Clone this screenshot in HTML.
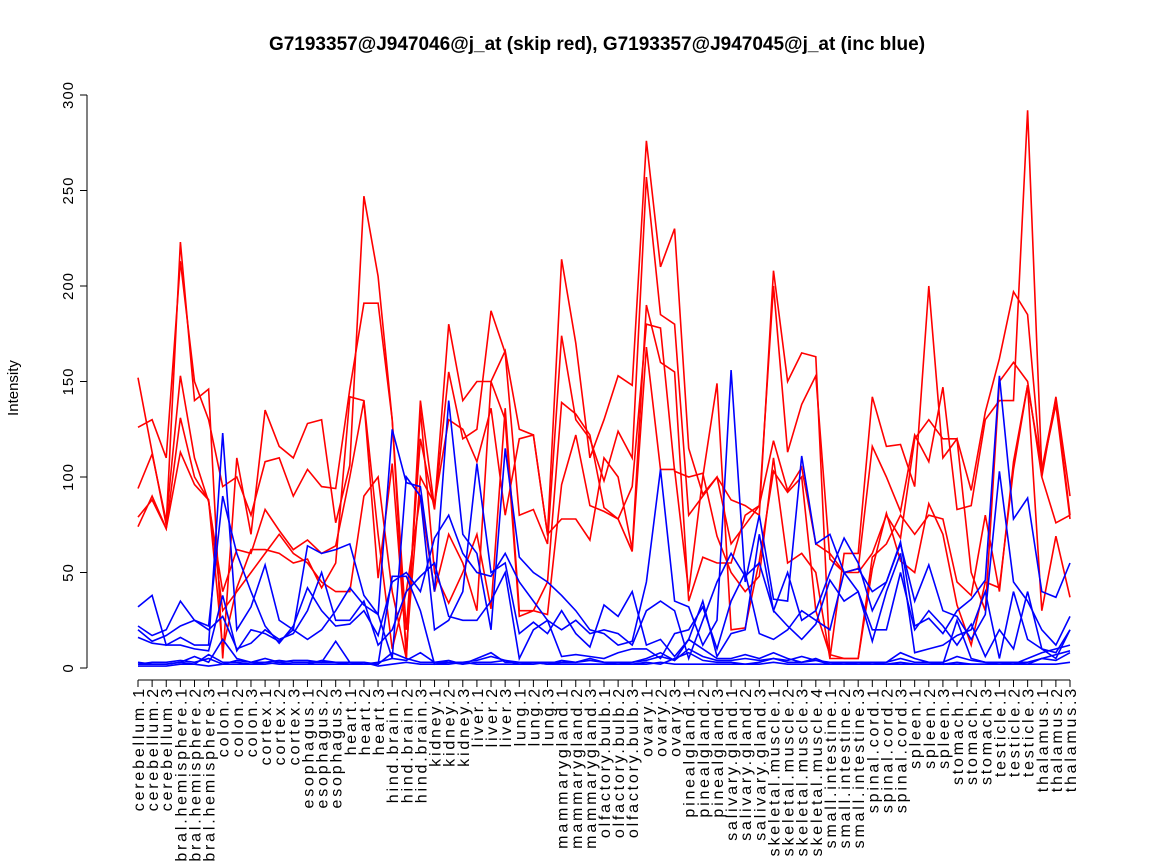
<!DOCTYPE html>
<html><head><meta charset="utf-8"><style>
body{margin:0;background:#fff;}
svg{display:block;font-family:"Liberation Sans",sans-serif;}
</style></head><body>
<svg id="chart" width="1152" height="864" viewBox="0 0 1152 864" xmlns="http://www.w3.org/2000/svg">
<text x="597" y="50" text-anchor="middle" font-size="19" font-weight="bold">G7193357@J947046@j_at (skip red), G7193357@J947045@j_at (inc blue)</text>
<text transform="translate(18,388) rotate(-90)" text-anchor="middle" font-size="15">Intensity</text>
<g id="yaxis"></g>
<g id="xaxis"></g>
<g id="series"></g>
</svg>
<script>
const groups = ["cerebellum","cerebral.hemisphere","colon","cortex","esophagus","heart","hind.brain","kidney","liver","lung","mammarygland","olfactory.bulb","ovary","pinealgland","salivary.gland","skeletal.muscle","small.intestine","spinal.cord","spleen","stomach","testicle","thalamus"];
const groupCounts = [3,3,3,3,3,3,3,3,3,3,3,3,3,3,3,4,3,3,3,3,3,3];
const yTicks = [0,50,100,150,200,250,300];
const red1 = [152,113,75,223,140,146,5,110,70,135,116,110,128,130,76,106,247,205,130,5,140,84,180,140,150,150,166,125,122,70,214,170,110,130,153,148,276,210,230,115,91,100,88,85,80,208,150,165,163,5,60,60,142,116,117,95,200,110,120,93,134,162,197,185,100,142,90];
const red2 = [126,130,110,213,150,130,95,100,80,108,110,90,104,95,94,146,191,191,130,20,120,83,155,120,125,187,165,80,83,65,174,130,120,98,124,110,257,185,180,80,90,100,65,75,85,200,113,138,153,57,50,52,116,100,82,122,108,147,83,85,130,140,140,292,103,138,78];
const red3 = [94,112,77,153,110,87,40,62,60,83,72,62,67,60,64,100,140,47,107,10,100,86,130,125,108,136,80,120,122,70,78,78,67,110,100,62,190,160,155,35,58,55,55,80,85,119,93,105,65,60,50,50,60,80,68,120,130,120,120,50,30,150,160,150,100,76,80];
const red4 = [79,88,73,131,100,88,30,40,50,60,70,60,55,45,40,40,90,100,40,5,135,50,34,50,70,31,136,30,30,45,139,133,122,84,78,95,180,178,103,100,102,69,50,40,48,110,55,60,50,5,5,5,58,65,80,70,80,78,45,38,80,40,108,148,104,141,80];
const red5 = [74,90,73,113,96,88,10,42,62,62,60,55,57,42,55,142,140,70,10,40,90,40,70,55,30,150,130,27,30,28,96,122,85,82,78,61,168,104,104,40,100,149,20,21,56,103,92,100,30,7,5,5,52,81,56,50,86,70,33,12,45,42,104,148,30,69,37];
const blue1 = [32,38,12,16,12,12,123,20,32,54,25,20,64,60,62,65,38,28,125,97,95,40,140,70,60,20,115,58,50,45,38,30,20,18,12,14,45,104,35,32,12,25,156,45,80,36,35,111,65,70,50,52,40,45,66,22,26,18,30,36,46,153,78,89,40,37,55];
const blue2 = [22,17,20,35,25,22,90,60,40,22,13,22,42,30,22,23,30,17,45,50,40,68,80,60,50,48,60,45,35,25,20,25,18,20,18,12,30,35,30,5,25,45,60,48,55,30,50,25,30,50,68,55,30,45,65,35,54,30,27,15,28,103,45,35,20,12,27];
const blue3 = [16,13,12,12,10,9,38,9,20,18,14,20,15,20,30,42,33,28,5,100,90,20,25,40,107,50,55,18,24,18,30,18,11,33,27,40,12,15,6,15,35,6,18,20,70,30,22,15,23,46,35,40,14,40,60,8,10,12,17,20,40,5,40,15,10,8,20];
const blue4 = [20,14,17,22,25,20,27,10,13,20,15,18,30,50,25,25,35,12,20,40,48,55,27,25,25,35,50,5,20,25,6,7,6,5,8,10,10,5,18,20,32,10,35,50,18,15,20,30,25,20,50,40,20,20,50,20,30,22,12,23,6,20,10,40,10,5,20];
const blue5 = [3,2,2,3,6,3,15,5,3,5,3,4,4,3,14,3,3,2,48,48,30,2,3,2,5,8,3,3,3,2,4,3,5,3,3,3,5,8,4,15,10,5,5,7,5,8,5,3,5,2,3,2,2,3,8,5,3,2,25,5,3,2,2,5,8,10,12];
const blue6 = [2,2,2,3,2,7,3,3,2,3,2,2,2,4,3,2,2,2,8,5,3,3,4,2,3,3,4,2,2,3,2,2,2,2,3,2,3,2,5,8,4,3,3,2,3,5,3,3,4,2,2,3,2,2,3,2,2,2,3,2,2,2,3,2,5,4,8];
const blue7 = [1,1,1,2,2,1,2,2,2,2,3,2,2,2,2,2,3,1,2,3,2,2,2,3,2,2,2,2,3,2,2,2,2,2,2,2,2,3,2,2,2,2,2,2,2,3,2,2,2,2,2,2,2,2,2,2,2,2,2,2,2,2,2,2,2,2,3];
const blue8 = [2,3,3,4,3,5,2,4,3,3,4,3,3,3,3,3,2,3,5,4,8,3,3,3,4,6,4,3,3,3,3,3,4,3,3,3,4,6,4,10,6,4,4,5,4,5,4,6,4,3,3,3,3,3,5,3,3,3,6,4,3,3,3,3,5,7,9];

const ns="http://www.w3.org/2000/svg";
const labels=[];
groups.forEach((g,i)=>{for(let k=1;k<=groupCounts[i];k++)labels.push(g+"."+k);});
const n=labels.length;
const x0=138,x1=1070,yb=668,yt=95;
function xs(i){return x0+(x1-x0)*i/(n-1);}
function ys(v){return yb-(yb-yt)*v/300;}
function mk(tag,attrs,parent){const e=document.createElementNS(ns,tag);for(const k in attrs)e.setAttribute(k,attrs[k]);parent.appendChild(e);return e;}

const ya=document.getElementById('yaxis');
let l=mk('line',{x1:87,y1:ys(0),x2:87,y2:ys(300),stroke:'#000','stroke-width':1},ya);


yTicks.forEach(t=>{
  const tk=mk('line',{x1:80,y1:ys(t),x2:87,y2:ys(t),stroke:'#000'},ya);
  
  
  const tx=mk('text',{transform:`translate(73,${ys(t)}) rotate(-90)`,'text-anchor':'middle','font-size':15,'letter-spacing':1},ya);
  tx.textContent=t;
  
  
});

const xa=document.getElementById('xaxis');
l=mk('line',{x1:xs(0),y1:680,x2:xs(n-1),y2:680,stroke:'#000'},xa);


labels.forEach((lab,i)=>{
  const tk=mk('line',{x1:xs(i),y1:680,x2:xs(i),y2:687,stroke:'#000'},xa);
  
  
  const tx=mk('text',{transform:`translate(${xs(i)+6},686) rotate(-90)`,'text-anchor':'end','font-size':16,'letter-spacing':2.8},xa);
  tx.textContent=lab;
  
  
});

const sg=document.getElementById('series');
const reds=[red1,red2,red3,red4,red5];
const blues=[blue1,blue2,blue3,blue4,blue5,blue6,blue7,blue8];
function draw(arr,color,name){
  const pts=arr.map((v,i)=>xs(i).toFixed(1)+","+ys(v).toFixed(1)).join(" ");
  const p=mk('polyline',{points:pts,fill:'none',stroke:color,'stroke-width':1.6,'stroke-linejoin':'miter'},sg);
  
  
}
reds.forEach((a,i)=>draw(a,'#ff0000','red-series-'+(i+1)));
blues.forEach((a,i)=>draw(a,'#0000ff','blue-series-'+(i+1)));
</script>
</body></html>
